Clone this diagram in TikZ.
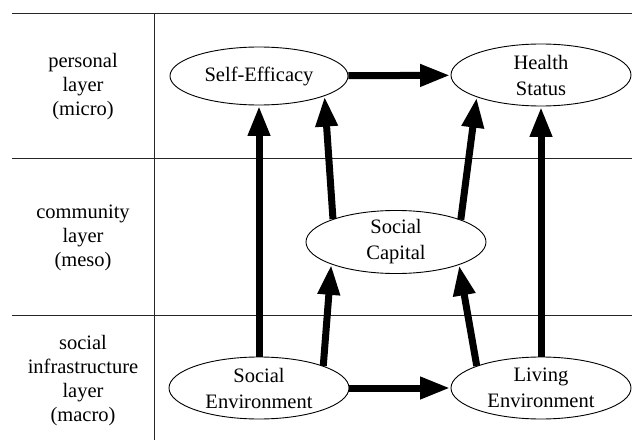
\documentclass[tikz,border=0pt]{standalone}
\usepackage{fontspec}
\setmainfont{Liberation Serif}
\usetikzlibrary{shapes.geometric,arrows.meta}

\tikzset{
  rule/.style={line width=1pt, black!85},
  concept/.style={ellipse, draw, line width=0.9pt, inner sep=0pt,
    minimum width=180pt, minimum height=62pt, align=center,
    font=\fontsize{20.5}{26}\selectfont},
  layername/.style={align=center, font=\fontsize{20.5}{24}\selectfont},
  effect/.style={line width=7pt, -{Triangle[length=30pt,width=21pt]}, shorten >=0.5pt}
}

\begin{document}
\begin{tikzpicture}[x=1pt,y=-1pt]
  \useasboundingbox (0,0) rectangle (632,444);

  % layer separators and label column
  \coordinate (tl) at (12,14);   \coordinate (tr) at (632,14);
  \coordinate (ml) at (12,158);  \coordinate (mr) at (632,158);
  \coordinate (bl) at (12,315);  \coordinate (br) at (632,315);
  \coordinate (vt) at (154,14);  \coordinate (vb) at (154,440);
  \draw[rule] (tl) -- (tr);
  \draw[rule] (ml) -- (mr);
  \draw[rule] (bl) -- (br);
  \draw[rule] (vt) -- (vb);

  % layer names
  \node[layername] (micro) at (83,87)  {personal\\layer\\(micro)};
  \node[layername] (meso)  at (83,238) {community\\layer\\(meso)};
  \node[layername] (macro) at (83,381) {social\\infrastructure\\layer\\(macro)};

  % concepts
  \node[concept, minimum width=178pt, minimum height=58pt] (se) at (259,76) {Self-Efficacy};
  \node[concept] (hs)   at (541,75)  {Health\\Status};
  \node[concept] (sc)   at (396,242) {Social\\Capital};
  \node[concept] (senv) at (259,388) {Social\\Environment};
  \node[concept] (le)   at (541,388) {Living\\Environment};

  % effects
  \draw[effect] (se) -- (hs);
  \draw[effect] (senv) -- (le);
  \draw[effect] (senv) -- (se);
  \draw[effect] (le) -- (hs);
  \draw[effect] (senv.19.3) -- (sc.199.3);
  \draw[effect] (le.161.2) -- (sc.340.7);
  \draw[effect] (sc.160.7) -- (se.-17.5);
  \draw[effect] (sc.19.3) -- (hs.-161.2);
\end{tikzpicture}
\end{document}
